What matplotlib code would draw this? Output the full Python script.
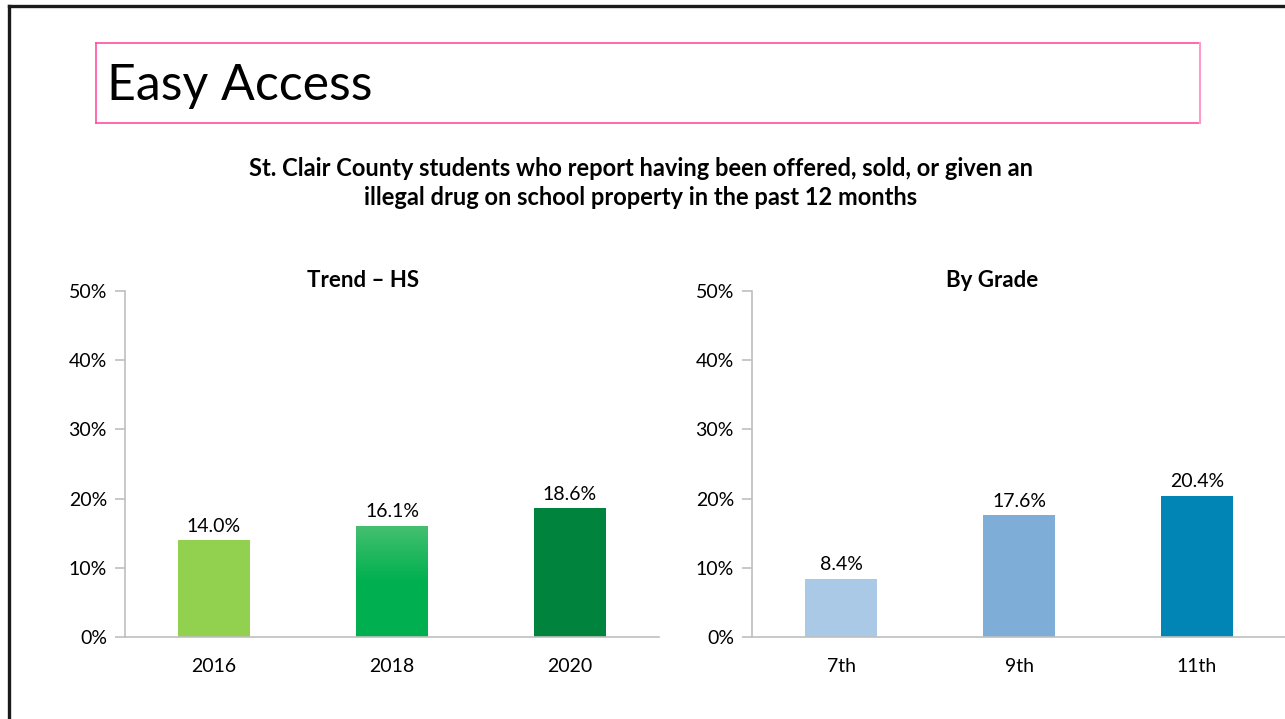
import matplotlib
matplotlib.use('Agg')
import matplotlib.pyplot as plt
import numpy as np
from matplotlib.lines import Line2D
from matplotlib.colors import LinearSegmentedColormap

plt.rcParams['font.family'] = ['Lato', 'DejaVu Sans']

# data
years = ['2016', '2018', '2020']
trend_hs = [14.0, 16.1, 18.6]
grades = ['7th', '9th', '11th']
by_grade = [8.4, 17.6, 20.4]

trend_colors = ['#92D050', '#00B050', '#00843D']
grade_colors = ['#A9C9E6', '#7EAED8', '#0085B5']

fig = plt.figure(figsize=(12.85, 7.19), dpi=100)

# slide border
fig.add_artist(Line2D([9/1285, 1], [1 - 6/719, 1 - 6/719], color='#1a1a1a', lw=2.4))
fig.add_artist(Line2D([9/1285, 9/1285], [0, 1 - 6/719], color='#1a1a1a', lw=2.4))

# title box
bx0, bx1 = 96/1285, 1200/1285
by0, by1 = 1 - 123/719, 1 - 43/719
fig.add_artist(Line2D([bx0, bx1], [by1, by1], color='#FF4FA0', lw=1.2))
fig.add_artist(Line2D([bx0, bx1], [by0, by0], color='#FF4FA0', lw=1.2))
fig.add_artist(Line2D([bx0, bx0], [by0, by1], color='#FF4FA0', lw=1.2))
fig.add_artist(Line2D([bx1, bx1], [by0, by1], color='#FF9BCB', lw=1.5))
fig.text(107/1285, 1 - 100/719, 'Easy Access', fontsize=36, fontweight='normal',
         ha='left', va='baseline', color='black')

fig.text(641/1285, 1 - 183/719,
         'St. Clair County students who report having been offered, sold, or given an\n'
         'illegal drug on school property in the past 12 months',
         ha='center', va='center', fontsize=17, fontweight='bold', linespacing=1.3)


def panel(rect, cats, vals, colors, title, title_x):
    ax = fig.add_axes(rect)
    x = np.arange(len(cats))
    bars = ax.bar(x, vals, width=0.4, color=colors, zorder=2)
    ax.set_xlim(-0.5, len(cats) - 0.5)
    ax.set_ylim(0, 50)
    ax.set_yticks(range(0, 51, 10))
    ax.set_yticklabels([f'{v}%' for v in range(0, 51, 10)])
    ax.set_xticks(x)
    ax.set_xticklabels(cats)
    for s in ['top', 'right']:
        ax.spines[s].set_visible(False)
    for s in ['left', 'bottom']:
        ax.spines[s].set_color('#BFBFBF')
        ax.spines[s].set_linewidth(1.2)
    ax.tick_params(axis='y', length=7, color='#BFBFBF', width=1.2, pad=6, labelsize=14)
    ax.tick_params(axis='x', length=0, pad=15, labelsize=14)
    for b, v in zip(bars, vals):
        ax.annotate(f'{v:.1f}%', (b.get_x() + b.get_width() / 2, v),
                    xytext=(0, 4), textcoords='offset points',
                    ha='center', va='bottom', fontsize=14)
    fig.text(title_x / 1285, 1 - 281 / 719, title, ha='center', va='center',
             fontsize=16, fontweight='bold')
    return ax, bars


ax1, bars1 = panel([125/1285, 1 - 637/719, 534/1285, 346/719],
                   years, trend_hs, trend_colors, 'Trend \u2013 HS', 363)
ax2, bars2 = panel([752/1285, 1 - 637/719, 534/1285, 346/719],
                   grades, by_grade, grade_colors, 'By Grade', 992)

# light gradient at the top of the 2018 bar
b = bars1[1]
cmap = LinearSegmentedColormap.from_list('g', ['#00B050', '#00B050', '#45C070'])
grad = np.linspace(0, 1, 100).reshape(-1, 1)
im = ax1.imshow(grad, cmap=cmap, aspect='auto', origin='lower', zorder=2,
                extent=[b.get_x(), b.get_x() + b.get_width(), 0, b.get_height()])
im.set_clip_path(b)
ax1.set_xlim(-0.5, 2.5)
ax1.set_ylim(0, 50)

fig.savefig('out.png', dpi=100)
